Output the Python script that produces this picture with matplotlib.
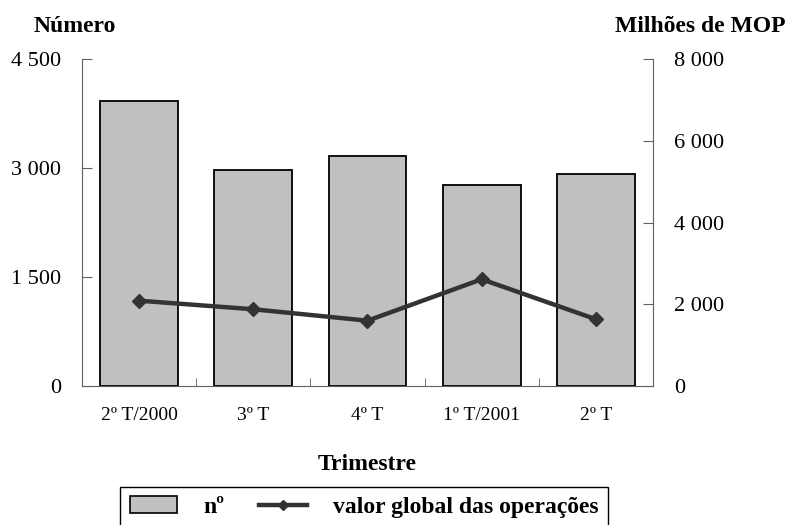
import numpy as np
import matplotlib
matplotlib.use("Agg")
import matplotlib.pyplot as plt
from matplotlib.patches import Patch
from matplotlib.lines import Line2D

plt.rcParams["font.family"] = ["Liberation Serif", "DejaVu Serif"]

# data
quarters = ["2º T/2000", "3º T", "4º T", "1º T/2001", "2º T"]
numero = [3930, 2975, 3165, 2765, 2915]
valor_global = [2090, 1880, 1600, 2615, 1635]

left_ticks = [0, 1500, 3000, 4500]
left_labels = ["0", "1 500", "3 000", "4 500"]
right_ticks = [0, 2000, 4000, 6000, 8000]
right_labels = ["0", "2 000", "4 000", "6 000", "8 000"]

bar_color = "#c0c0c0"
line_color = "#333333"
spine_color = "#606060"

fig = plt.figure(figsize=(7.97, 5.25), dpi=100)
ax = fig.add_axes([0.1029, 0.2648, 0.8193 - 0.1029, 0.8867 - 0.2648])
ax2 = ax.twinx()

x = np.arange(len(quarters))
ax.bar(x, numero, width=0.68, color=bar_color, edgecolor="black", linewidth=1.3, zorder=2)
ax2.plot(x, valor_global, color=line_color, lw=3.2, marker="D", ms=7, zorder=3)

ax.set_xlim(-0.5, len(quarters) - 0.5)
ax.set_ylim(0, 4500)
ax2.set_ylim(0, 8000)

ax.set_yticks(left_ticks)
ax.set_yticklabels(left_labels, fontsize=16)
ax2.set_yticks(right_ticks)
ax2.set_yticklabels(right_labels, fontsize=16)

ax.set_xticks(x)
ax.set_xticklabels(quarters, fontsize=14)
ax.set_xticks(x[:-1] + 0.5, minor=True)
ax.tick_params(axis="x", which="major", length=0, pad=15)
ax.tick_params(axis="x", which="minor", direction="in", length=6, color=spine_color)
ax.tick_params(axis="y", direction="in", length=7, pad=15, color=spine_color)
ax2.tick_params(axis="y", direction="in", length=7, pad=15, color=spine_color)

for a in (ax, ax2):
    a.spines["top"].set_visible(False)
    for s in ("left", "right", "bottom"):
        a.spines[s].set_color(spine_color)
ax.spines["right"].set_visible(False)
ax2.spines["left"].set_visible(False)
ax2.spines["bottom"].set_visible(False)

ax.set_xlabel("Trimestre", fontsize=17, fontweight="bold", labelpad=22)

fig.text(75 / 797, 1 - 27 / 525, "Número", fontsize=17, fontweight="bold", ha="center", va="center")
fig.text(700 / 797, 1 - 27 / 525, "Milhões de MOP", fontsize=17, fontweight="bold", ha="center", va="center")

handles = [
    Patch(facecolor=bar_color, edgecolor="black", linewidth=1.2),
    Line2D([0], [0], color=line_color, lw=3.2, marker="D", ms=5),
]
leg = fig.legend(handles, ["nº", "valor global das operações"], loc="upper center",
                 bbox_to_anchor=(364 / 797, 1 - 487 / 525), borderaxespad=0, ncol=2,
                 fancybox=False, framealpha=1, edgecolor="black", handlelength=2.0,
                 handletextpad=1.1, columnspacing=1.5, borderpad=0.4,
                 prop={"size": 17, "weight": "bold"})
leg.get_frame().set_linewidth(1.0)

fig.savefig("out.png", dpi=100)
